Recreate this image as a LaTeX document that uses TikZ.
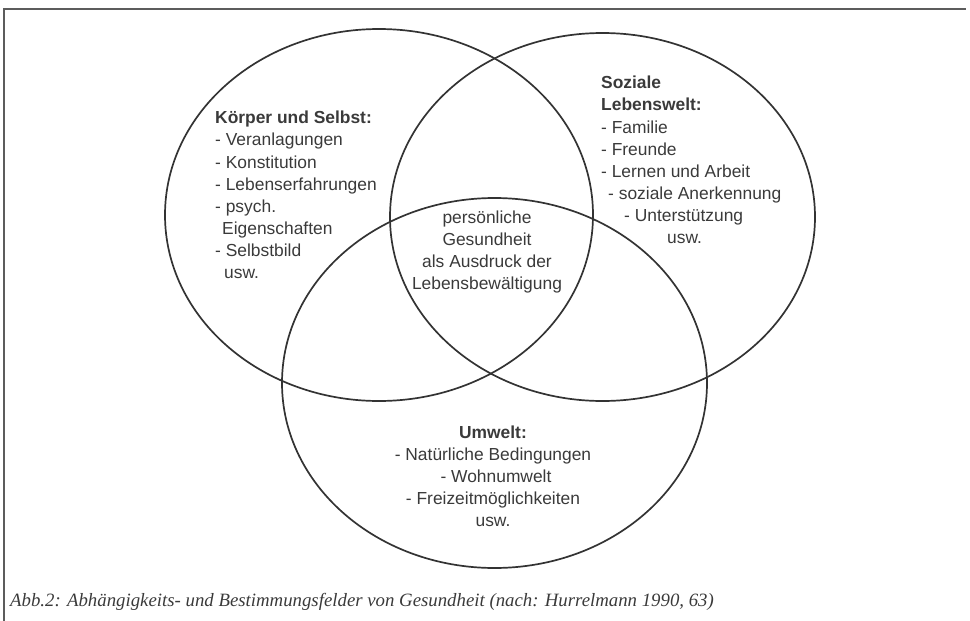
\documentclass[tikz,border=0pt]{standalone}
\usepackage{fontspec}
\setmainfont{Liberation Serif}
\newfontfamily\lbl{Liberation Sans}
\definecolor{ink}{HTML}{333333}
\definecolor{txt}{HTML}{3A3A3A}
\begin{document}
\begin{tikzpicture}[x=1pt,y=-1pt,
  ring/.style={draw=ink,line width=1.7pt},
  frame/.style={draw=ink!80,line width=1.4pt},
  blk/.style={font=\lbl\fontsize{17.4}{22.1}\selectfont,text=txt,inner sep=0pt,align=left},
  cblk/.style={font=\lbl\fontsize{17.4}{22}\selectfont,text=txt,inner sep=0pt,align=center},
  captxt/.style={font=\itshape\fontsize{18.8}{21}\selectfont,text=txt,inner sep=0pt,anchor=base west}]
\useasboundingbox (0,0) rectangle (970,621);
\draw[frame] (4,621) -- (4,9) -- (966,9);
\draw[ring] (379,215) ellipse [x radius=214, y radius=186];
\draw[ring] (602.5,217) ellipse [x radius=212.5, y radius=184];
\draw[ring] (494.5,383) ellipse [x radius=212.5, y radius=185];
\node[blk,anchor=north west] (ks) at (215,111) {\textbf{Körper und Selbst:}\\
- Veranlagungen\\
- Konstitution\\
- Lebenserfahrungen\\
- psych.\\
\hspace*{7pt}Eigenschaften\\
- Selbstbild\\
\hspace*{9pt}usw.};
\node[blk,anchor=north west] (sl) at (601,76) {\textbf{Soziale}\\
\textbf{Lebenswelt:}\\
- Familie\\
- Freunde\\
- Lernen und Arbeit\\
\hspace*{7pt}- soziale Anerkennung\\
\hspace*{23pt}- Unterstützung\\
\hspace*{66pt}usw.};
\node[cblk,anchor=north] (pg) at (487,211) {persönliche\\Gesundheit\\als Ausdruck der\\Lebensbewältigung};
\node[cblk,anchor=north] (uw) at (493,426) {\textbf{Umwelt:}\\
- Natürliche Bedingungen\\
\hspace*{6pt}- Wohnumwelt\\
- Freizeitmöglichkeiten\\
usw.};
\node[captxt] (caption) at (10,606) {Abb.2: Abhängigkeits- und Bestimmungsfelder von Gesundheit (nach: Hurrelmann 1990, 63)};
\end{tikzpicture}
\end{document}
